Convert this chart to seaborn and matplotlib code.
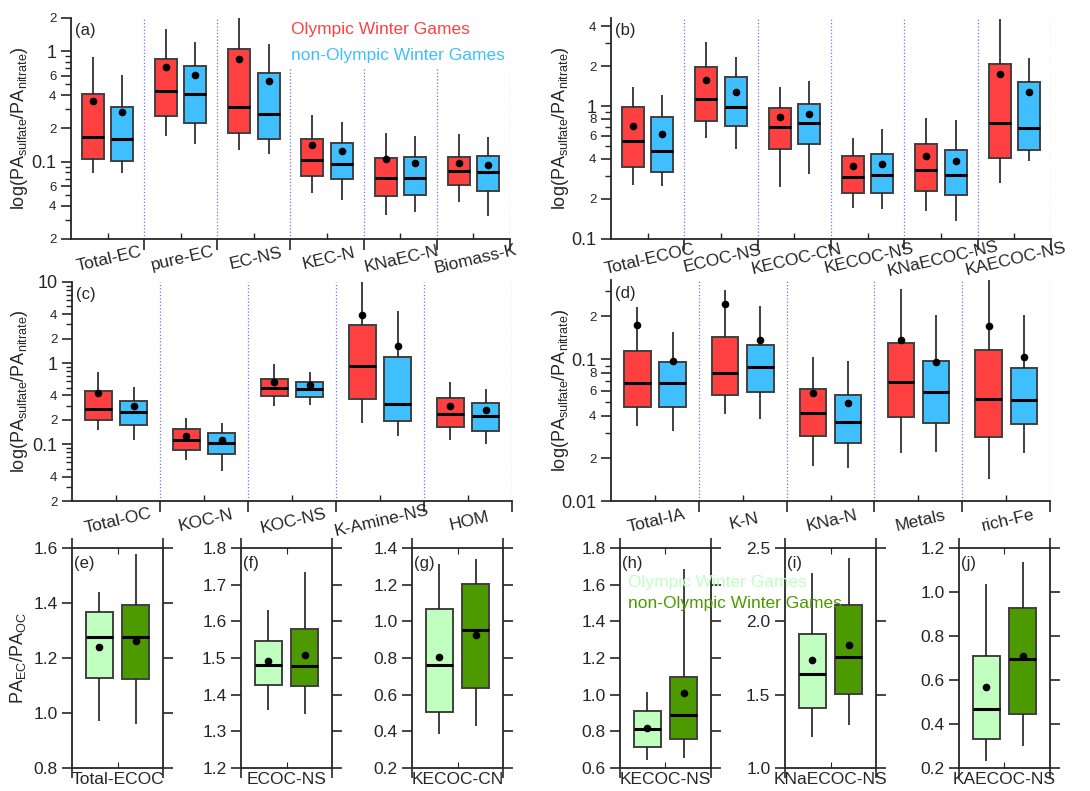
import numpy as np
import pandas as pd
import matplotlib
matplotlib.use("Agg")
import matplotlib.pyplot as plt
from matplotlib.ticker import FixedLocator, NullFormatter
from matplotlib.lines import Line2D
import seaborn as sns

sns.set_style("ticks")
plt.rcParams['font.family'] = ['Liberation Sans', 'DejaVu Sans']
plt.rcParams['mathtext.default'] = 'regular'

# stats per box: [whisker low, Q1, median, Q3, whisker high]
a_cats = ['Total-EC', 'pure-EC', 'EC-NS', 'KEC-N', 'KNaEC-N', 'Biomass-K']
a_oly = [[0.0785, 0.106, 0.168, 0.406, 0.88],
         [0.171, 0.257, 0.435, 0.853, 1.60],
         [0.129, 0.183, 0.314, 1.04, 2.0],
         [0.0525, 0.0742, 0.103, 0.160, 0.264],
         [0.0332, 0.0486, 0.0707, 0.108, 0.183],
         [0.0432, 0.0620, 0.0818, 0.111, 0.178]]
a_oly_mean = [0.358, 0.717, 0.852, 0.1415, 0.1057, 0.0966]
a_non = [[0.079, 0.101, 0.159, 0.316, 0.615],
         [0.146, 0.225, 0.411, 0.732, 1.21],
         [0.118, 0.161, 0.273, 0.633, 1.16],
         [0.0451, 0.0702, 0.0953, 0.1475, 0.23],
         [0.0353, 0.0503, 0.0711, 0.110, 0.172],
         [0.032, 0.0543, 0.080, 0.113, 0.168]]
a_non_mean = [0.281, 0.607, 0.539, 0.1257, 0.0966, 0.094]

b_cats = ['Total-ECOC', 'ECOC-NS', 'KECOC-CN', 'KECOC-NS', 'KNaECOC-NS', 'KAECOC-NS']
b_oly = [[0.254, 0.346, 0.545, 0.989, 1.38],
         [0.571, 0.778, 1.13, 1.95, 3.04],
         [0.247, 0.472, 0.701, 0.972, 1.39],
         [0.170, 0.222, 0.294, 0.421, 0.571],
         [0.163, 0.228, 0.333, 0.518, 0.809],
         [0.263, 0.405, 0.747, 2.06, 4.5]]
b_oly_mean = [0.705, 1.57, 0.832, 0.351, 0.424, 1.75]
b_non = [[0.251, 0.320, 0.459, 0.823, 1.215],
         [0.472, 0.705, 0.989, 1.655, 2.35],
         [0.307, 0.518, 0.751, 1.03, 1.545],
         [0.168, 0.222, 0.304, 0.438, 0.670],
         [0.137, 0.213, 0.302, 0.467, 0.787],
         [0.384, 0.469, 0.681, 1.52, 2.31]]
b_non_mean = [0.615, 1.28, 0.867, 0.367, 0.384, 1.265]

c_cats = ['Total-OC', 'KOC-N', 'KOC-NS', 'K-Amine-NS', 'HOM']
c_oly = [[0.148, 0.197, 0.273, 0.450, 0.776],
         [0.0637, 0.086, 0.114, 0.154, 0.210],
         [0.295, 0.398, 0.494, 0.643, 0.963],
         [0.182, 0.366, 0.919, 2.95, 10.5],
         [0.114, 0.163, 0.235, 0.370, 0.590]]
c_oly_mean = [0.425, 0.128, 0.580, 3.91, 0.300]
c_non = [[0.112, 0.172, 0.249, 0.343, 0.504],
         [0.0471, 0.0762, 0.104, 0.136, 0.181],
         [0.309, 0.387, 0.481, 0.591, 0.776],
         [0.127, 0.196, 0.317, 1.2, 4.4],
         [0.102, 0.147, 0.223, 0.320, 0.485]]
c_non_mean = [0.295, 0.112, 0.533, 1.62, 0.265]

d_cats = ['Total-IA', 'K-N', 'KNa-N', 'Metals', 'rich-Fe']
d_oly = [[0.0336, 0.0462, 0.0674, 0.114, 0.231],
         [0.0412, 0.0557, 0.0793, 0.1436, 0.308],
         [0.0177, 0.0285, 0.0419, 0.0618, 0.1038],
         [0.0219, 0.0393, 0.0685, 0.1296, 0.311],
         [0.0144, 0.0282, 0.0526, 0.115, 0.36]]
d_oly_mean = [0.1726, 0.244, 0.0573, 0.136, 0.1717]
d_non = [[0.031, 0.0459, 0.0674, 0.0953, 0.155],
         [0.0378, 0.0589, 0.0873, 0.126, 0.2375],
         [0.0170, 0.0258, 0.0358, 0.0555, 0.0973],
         [0.0223, 0.0354, 0.0582, 0.0968, 0.204],
         [0.0219, 0.0348, 0.0512, 0.0865, 0.205]]
d_non_mean = [0.0963, 0.1353, 0.049, 0.0948, 0.1038]

# bottom row: PA_EC / PA_OC
bot_cats = ['Total-ECOC', 'ECOC-NS', 'KECOC-CN', 'KECOC-NS', 'KNaECOC-NS', 'KAECOC-NS']
bot_oly = [[0.971, 1.129, 1.278, 1.369, 1.442],
           [1.359, 1.426, 1.480, 1.547, 1.632],
           [0.388, 0.506, 0.761, 1.069, 1.311],
           [0.642, 0.715, 0.811, 0.911, 1.013],
           [1.209, 1.412, 1.640, 1.917, 2.327],
           [0.233, 0.332, 0.469, 0.708, 1.038]]
bot_oly_mean = [1.241, 1.491, 0.803, 0.820, 1.735, 0.569]
bot_non = [[0.960, 1.125, 1.278, 1.394, 1.577],
           [1.348, 1.424, 1.478, 1.580, 1.735],
           [0.428, 0.635, 0.954, 1.205, 1.340],
           [0.655, 0.760, 0.890, 1.099, 1.687],
           [1.296, 1.505, 1.758, 2.115, 2.432],
           [0.302, 0.446, 0.696, 0.928, 1.136]]
bot_non_mean = [1.263, 1.509, 0.923, 1.010, 1.842, 0.711]
bot_yticks = [[0.8, 1.0, 1.2, 1.4, 1.6],
              [1.2, 1.3, 1.4, 1.5, 1.6, 1.7, 1.8],
              [0.2, 0.4, 0.6, 0.8, 1.0, 1.2, 1.4],
              [0.6, 0.8, 1.0, 1.2, 1.4, 1.6, 1.8],
              [1.0, 1.5, 2.0, 2.5],
              [0.2, 0.4, 0.6, 0.8, 1.0, 1.2]]

groups = ['Olympic Winter Games', 'non-Olympic Winter Games']
RED, BLUE = '#ff4040', '#40bfff'
LGREEN, DGREEN = '#c0ffc0', '#4c9900'
EDGE = '#404040'


def draw_boxes(ax, cats, oly, oly_mean, non, non_mean, colors, log):
    rows = []
    for c, s1, s2 in zip(cats, oly, non):
        rows += [(c, groups[0], v) for v in s1]
        rows += [(c, groups[1], v) for v in s2]
    df = pd.DataFrame(rows, columns=['cat', 'grp', 'val'])
    sns.boxplot(data=df, x='cat', y='val', hue='grp', order=cats, hue_order=groups,
                palette=colors, saturation=1, whis=(0, 100), showfliers=False,
                width=0.8, gap=0.25, linecolor=EDGE, linewidth=1.4, log_scale=log,
                legend=False, ax=ax,
                medianprops=dict(color='black', linewidth=2.2),
                whiskerprops=dict(color='#202020', linewidth=1.2),
                capprops=dict(visible=False))
    means = pd.DataFrame({'cat': list(cats) * 2,
                          'grp': [groups[0]] * len(cats) + [groups[1]] * len(cats),
                          'val': list(oly_mean) + list(non_mean)})
    sns.stripplot(data=means, x='cat', y='val', hue='grp', order=cats, hue_order=groups,
                  palette=['black', 'black'], dodge=True, jitter=False, size=5.5,
                  log_scale=log, legend=False, ax=ax, zorder=5)
    ax.set_xlabel('')
    ax.set_ylabel('')


def log_axis(ax, lo, hi, labeled_digits, ylabel_x, letter):
    ax.set_ylim(lo, hi)
    major, minor, labels = [], [], []
    for e in range(-3, 2):
        for d in range(1, 10):
            v = d * 10.0 ** e
            if v < lo * 0.999 or v > hi * 1.001:
                continue
            if d == 1:
                major.append(v)
                labels.append(('%g' % v))
            elif d in labeled_digits:
                major.append(v)
                labels.append(str(d))
            else:
                minor.append(v)
    ax.yaxis.set_major_locator(FixedLocator(major))
    ax.set_yticklabels(labels)
    ax.yaxis.set_minor_locator(FixedLocator(minor))
    ax.yaxis.set_minor_formatter(NullFormatter())
    for t in ax.get_yticklabels():
        t.set_fontsize(13 if t.get_text() in ('1', '10') or '.' in t.get_text() else 9.5)
    ax.tick_params(axis='y', which='major', direction='out', length=7, width=1.2)
    ax.tick_params(axis='y', which='minor', direction='out', length=4, width=1)
    n = len(ax.get_xticks())
    ax.set_xlim(-0.5, n - 0.5)
    ax.set_xticks(np.arange(n))
    ax.set_xticks(np.arange(n) + 0.5, minor=True)
    ax.tick_params(axis='x', which='major', direction='in', length=4, width=1, pad=9)
    ax.tick_params(axis='x', which='minor', direction='out', length=8, width=1.2)
    for t in ax.get_xticklabels():
        t.set_rotation(13)
        t.set_rotation_mode('anchor')
        t.set_ha('center')
        t.set_va('top')
        t.set_fontsize(12.5)
    for b in np.arange(n) + 0.5:
        ax.axvline(b, color='#7070ff', ls=':', lw=0.9, zorder=0.5)
    for s in ['top', 'right']:
        ax.spines[s].set_visible(False)
    for s in ['left', 'bottom']:
        ax.spines[s].set_linewidth(1.3)
    ax.set_ylabel(r'log(PA$_{sulfate}$/PA$_{nitrate}$)', fontsize=13)
    ax.yaxis.set_label_coords(ylabel_x, 0.5)
    ax.text(0.01, 0.975, letter, transform=ax.transAxes, ha='left', va='top', fontsize=12)


fig = plt.figure(figsize=(10.9, 7.91), dpi=100)

ax_a = fig.add_axes([0.0651, 0.6979, 0.4028, 0.2794])
draw_boxes(ax_a, a_cats, a_oly, a_oly_mean, a_non, a_non_mean, [RED, BLUE], True)
log_axis(ax_a, 0.02, 2.0, (2, 4, 6), -0.093, '(a)')
handles = [Line2D([], [], linestyle='none') for _ in groups]
leg = ax_a.legend(handles, groups, loc='upper right', bbox_to_anchor=(1.02, 1.045),
                  handlelength=0, handletextpad=0, labelcolor=[RED, BLUE],
                  fontsize=12.5, frameon=True, facecolor='white', edgecolor='none',
                  framealpha=1, borderpad=0.3, labelspacing=0.6)
leg.set_zorder(10)

ax_b = fig.add_axes([0.5606, 0.6979, 0.4037, 0.2794])
draw_boxes(ax_b, b_cats, b_oly, b_oly_mean, b_non, b_non_mean, [RED, BLUE], True)
log_axis(ax_b, 0.1, 4.6, (2, 4, 6, 8), -0.091, '(b)')

ax_c = fig.add_axes([0.0661, 0.3666, 0.4037, 0.2769])
draw_boxes(ax_c, c_cats, c_oly, c_oly_mean, c_non, c_non_mean, [RED, BLUE], True)
log_axis(ax_c, 0.02, 10.0, (2, 4), -0.095, '(c)')

ax_d = fig.add_axes([0.5606, 0.3666, 0.4028, 0.2794])
draw_boxes(ax_d, d_cats, d_oly, d_oly_mean, d_non, d_non_mean, [RED, BLUE], True)
log_axis(ax_d, 0.01, 0.36, (2, 4, 6, 8), -0.091, '(d)')

lefts = [0.0661, 0.2211, 0.3780, 0.5688, 0.7202, 0.8798]
letters = ['(e)', '(f)', '(g)', '(h)', '(i)', '(j)']
for i, left in enumerate(lefts):
    ax = fig.add_axes([left, 0.0291, 0.0835, 0.278])
    draw_boxes(ax, [bot_cats[i]], [bot_oly[i]], [bot_oly_mean[i]],
               [bot_non[i]], [bot_non_mean[i]], [LGREEN, DGREEN], False)
    yt = bot_yticks[i]
    ax.set_ylim(yt[0], yt[-1])
    ax.set_yticks(yt)
    ax.set_yticklabels(['%.1f' % v for v in yt], fontsize=12.5)
    ax.tick_params(axis='y', which='major', direction='out', length=7, width=1.2,
                   left=True, right=True, labelleft=True, labelright=False)
    ax.set_xlim(-0.5, 0.5)
    ax.set_xticks([0])
    ax.set_xticklabels([bot_cats[i]], fontsize=12.5)
    ax.set_xticks([-0.5, 0.5], minor=True)
    ax.tick_params(axis='x', which='major', direction='in', length=4, top=True, bottom=True, pad=3)
    ax.tick_params(axis='x', which='minor', direction='out', length=7, width=1.2,
                   top=True, bottom=True)
    for s in ax.spines.values():
        s.set_visible(True)
        s.set_linewidth(1.3)
    ax.text(0.02, 0.965, letters[i], transform=ax.transAxes, ha='left', va='top', fontsize=12)
    if i == 0:
        ax.set_ylabel(r'PA$_{EC}$/PA$_{OC}$', fontsize=13)
        ax.yaxis.set_label_coords(-0.48, 0.5)

fig.text(0.576, 0.263, groups[0], color=LGREEN, fontsize=12.5, ha='left', va='center')
fig.text(0.576, 0.237, groups[1], color=DGREEN, fontsize=12.5, ha='left', va='center')

fig.savefig('out.png', dpi=100)
